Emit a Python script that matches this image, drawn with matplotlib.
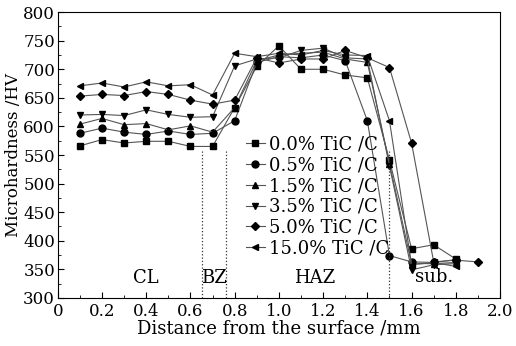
import matplotlib
matplotlib.use("Agg")
import matplotlib.pyplot as plt
from matplotlib.ticker import MultipleLocator

plt.rcParams["font.family"] = ["DejaVu Serif"]
plt.rcParams["mathtext.fontset"] = "dejavuserif"

# distance from surface (mm)
x_main = [0.1, 0.2, 0.3, 0.4, 0.5, 0.6, 0.7, 0.8, 0.9, 1.0, 1.1, 1.2, 1.3, 1.4, 1.5, 1.6, 1.7, 1.8]
x_long = [0.1, 0.2, 0.3, 0.4, 0.5, 0.6, 0.7, 0.8, 0.9, 1.0, 1.1, 1.2, 1.3, 1.4, 1.5, 1.6, 1.7, 1.8, 1.9]

hv_00 = [566, 577, 571, 574, 574, 565, 565, 633, 705, 741, 700, 700, 690, 685, 541, 386, 393, 368]
hv_05 = [588, 597, 590, 586, 592, 586, 588, 610, 712, 722, 720, 725, 715, 610, 374, 363, 362, 367]
hv_15 = [604, 614, 603, 605, 594, 601, 590, 633, 715, 725, 728, 730, 718, 712, 535, 360, 360, 362]
hv_35 = [620, 621, 619, 629, 621, 616, 617, 706, 718, 720, 733, 737, 720, 718, 531, 349, 358, 360]
hv_50 = [653, 656, 654, 661, 656, 646, 639, 646, 720, 711, 718, 718, 733, 720, 703, 571, 363, 366, 363]
hv_150 = [671, 676, 669, 678, 671, 673, 655, 728, 722, 728, 725, 733, 725, 724, 610, 358, 362, 355]

labels = ["0.0% TiC /C", "0.5% TiC /C", "1.5% TiC /C",
          "3.5% TiC /C", "5.0% TiC /C", "15.0% TiC /C"]
markers = ["s", "o", "^", "v", "D", "<"]
series = [(x_main, hv_00), (x_main, hv_05), (x_main, hv_15),
          (x_main, hv_35), (x_long, hv_50), (x_main, hv_150)]

boundaries = [0.65, 0.76, 1.5]
zone_names = ["CL", "BZ", "HAZ", "sub."]
zone_x = [0.4, 0.705, 1.16, 1.70]
zone_y = [334, 334, 334, 337]

fig = plt.figure(figsize=(5.16, 3.46), dpi=100)
ax = fig.add_axes([0.112, 0.139, 0.857, 0.826])

for (xs, ys), lab, m in zip(series, labels, markers):
    ms = 4 if m == "D" else 5
    ax.plot(xs, ys, color="#555555", linewidth=0.8, marker=m, markersize=ms,
            markerfacecolor="black", markeredgecolor="black", label=lab)

for b in boundaries:
    ax.plot([b, b], [300, 560], color="#333333", linestyle=":", linewidth=0.9)

for name, zx, zy in zip(zone_names, zone_x, zone_y):
    ax.text(zx, zy, name, ha="center", va="center", fontsize=13)

ax.set_xlim(0, 2.0)
ax.set_ylim(300, 800)
ax.xaxis.set_minor_locator(MultipleLocator(0.1))
ax.yaxis.set_major_locator(MultipleLocator(50))
ax.yaxis.set_minor_locator(MultipleLocator(25))
ax.set_xticks([0, 0.2, 0.4, 0.6, 0.8, 1.0, 1.2, 1.4, 1.6, 1.8, 2.0])
ax.set_xticklabels(["0", "0.2", "0.4", "0.6", "0.8", "1.0", "1.2", "1.4", "1.6", "1.8", "2.0"])
ax.tick_params(which="both", direction="in", labelsize=12)
ax.tick_params(axis="x", pad=4)
ax.tick_params(axis="y", pad=2)
ax.tick_params(which="major", length=4)
ax.tick_params(which="minor", length=2)

ax.set_xlabel("Distance from the surface /mm", fontsize=13, labelpad=-1)
ax.set_ylabel("Microhardness /HV", fontsize=12, labelpad=1)

ax.legend(loc="upper left", bbox_to_anchor=(0.40, 0.607), frameon=False,
          fontsize=13, handlelength=1.1, handletextpad=0.2, labelspacing=0.16,
          borderpad=0.1)

fig.savefig("out.png", dpi=100)
